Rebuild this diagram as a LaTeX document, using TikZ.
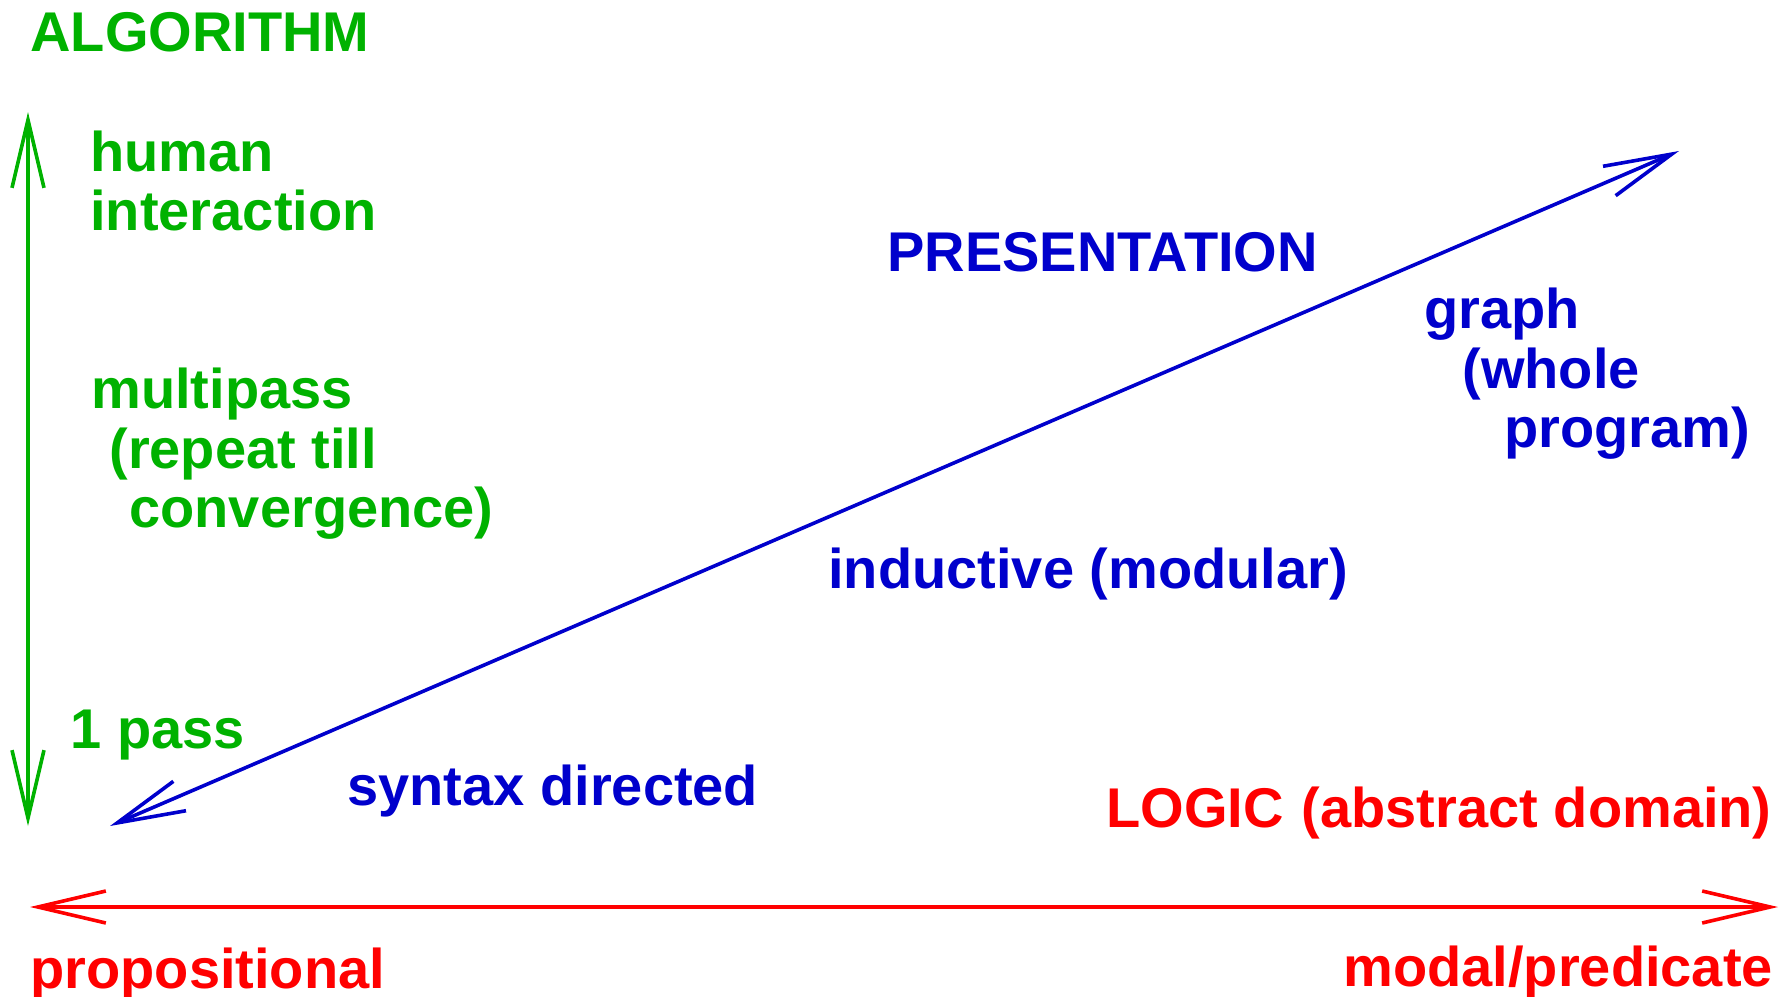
\documentclass[tikz,border=0pt]{standalone}
\usepackage{fontspec}
\setmainfont{Liberation Sans}
\usetikzlibrary{arrows.meta}
\definecolor{cgreen}{RGB}{0,178,0}
\definecolor{cblue}{RGB}{0,0,204}
\definecolor{cred}{RGB}{255,0,0}
\begin{document}
\begin{tikzpicture}[x=0.5pt,y=-0.5pt,
  lbl/.style={anchor=base west,inner sep=0pt,font=\fontsize{28pt}{30pt}\selectfont\bfseries},
  gl/.style={lbl,text=cgreen},
  bl/.style={lbl,text=cblue},
  rl/.style={lbl,text=cred},
  barb/.style={line width=1.8pt,{Straight Barb[length=34pt,width=16pt,line width=1.8pt]}-{Straight Barb[length=34pt,width=16pt,line width=1.8pt]}}]
\useasboundingbox (0,0) rectangle (1783,996);
% axes end points
\coordinate (gtop) at (28,112);
\coordinate (gbot) at (28,826);
\coordinate (rleft) at (30,907);
\coordinate (rright) at (1778,907);
\coordinate (bll) at (110,826);
\coordinate (bur) at (1679,151);
\draw[barb,cgreen] (gbot) -- (gtop);
\draw[barb,cred] (rleft) -- (rright);
\draw[barb,cblue] (bll) -- (bur);
% green labels
\node[gl] (alg) at (30,51) {ALGORITHM};
\node[gl] (hum1) at (90,171) {human};
\node[gl] (hum2) at (90,230) {interaction};
\node[gl] (mp1) at (91,408) {multipass};
\node[gl] (mp2) at (109,468) {(repeat till};
\node[gl] (mp3) at (129,527) {convergence)};
\node[gl] (onep) at (70,748) {1 pass};
% blue labels
\node[bl] (pres) at (887,271) {PRESENTATION};
\node[bl] (gr1) at (1424,328) {graph};
\node[bl] (gr2) at (1462,388) {(whole};
\node[bl] (gr3) at (1504,447) {program)};
\node[bl] (ind) at (828,588) {inductive (modular)};
\node[bl] (syn) at (347,805) {syntax directed};
% red labels
\node[rl] (logic) at (1106,827) {LOGIC\hspace{9pt}(abstract domain)};
\node[rl] (prop) at (30,988) {propositional};
\node[rl] (modal) at (1343,986) {modal/predicate};
\end{tikzpicture}
\end{document}
